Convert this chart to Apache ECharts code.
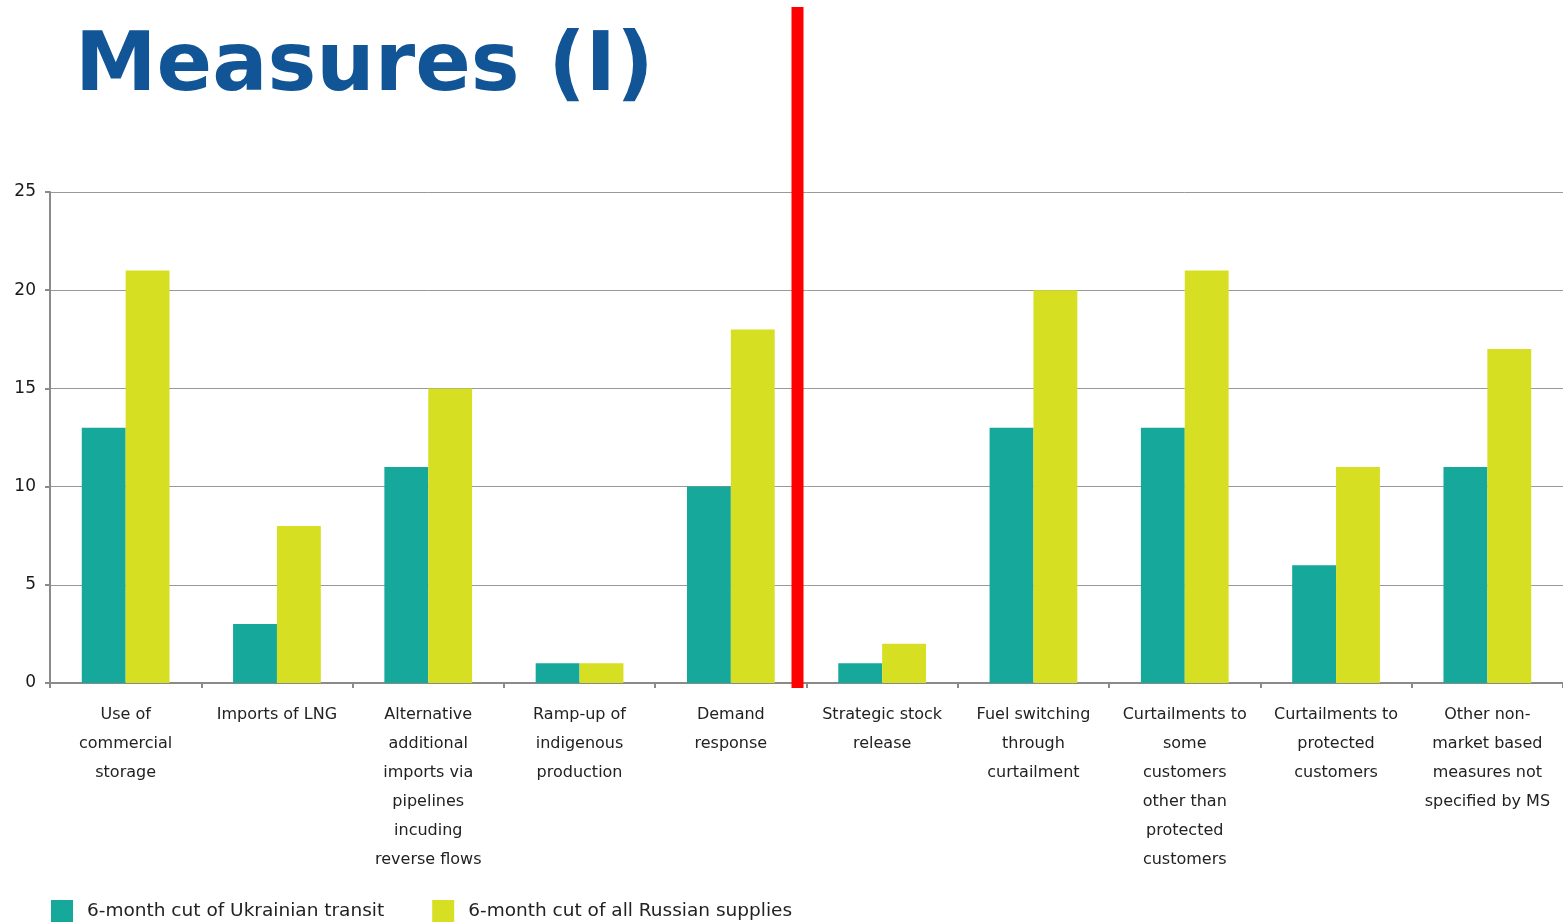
<!DOCTYPE html>
<html><head><meta charset="utf-8">
<script src="https://cdn.jsdelivr.net/npm/echarts@6/dist/echarts.min.js"></script>
<style>html,body{margin:0;padding:0;background:#fff}#c{width:1563px;height:924px}</style>
</head><body><div id="c"></div>
<script>
const categories = [
  "Use of\ncommercial\nstorage",
  "Imports of LNG",
  "Alternative\nadditional\nimports via\npipelines\nincuding\nreverse flows",
  "Ramp-up of\nindigenous\nproduction",
  "Demand\nresponse",
  "Strategic stock\nrelease",
  "Fuel switching\nthrough\ncurtailment",
  "Curtailments to\nsome\ncustomers\nother than\nprotected\ncustomers",
  "Curtailments to\nprotected\ncustomers",
  "Other non-\nmarket based\nmeasures not\nspecified by MS"
];
const seriesNames = ["6-month cut of Ukrainian transit", "6-month cut of all Russian supplies"];
const ukrainianTransit = [13, 3, 11, 1, 10, 1, 13, 13, 6, 11];
const allRussian = [21, 8, 15, 1, 18, 2, 20, 21, 11, 17];
const yTicks = { min: 0, max: 25, interval: 5 };

const chart = echarts.init(document.getElementById('c'));
const labelFont = 'DejaVu Sans';
chart.setOption({
  animation: false,
  title: {
    text: 'Measures (I)', left: 75, top: 28, padding: 0,
    textStyle: { fontFamily: 'DejaVu Sans', fontWeight: 'bold', fontSize: 82, color: '#115597' }
  },
  legend: {
    left: 51, top: 900, padding: 0, itemWidth: 22, itemHeight: 22, itemGap: 48,
    icon: 'rect',
    textStyle: { fontFamily: labelFont, fontSize: 18.5, color: '#222', padding: [0, 0, 0, 9] },
    data: seriesNames
  },
  grid: { left: 50, right: 0, top: 192, bottom: 241, containLabel: false },
  xAxis: {
    type: 'category', data: categories,
    axisLine: { lineStyle: { color: '#8a8a8a', width: 2 } },
    axisTick: { show: true, length: 5, lineStyle: { color: '#8a8a8a', width: 2 } },
    axisLabel: { interval: 0, margin: 17, fontFamily: labelFont, fontSize: 16, lineHeight: 29, color: '#222', align: 'center' }
  },
  yAxis: {
    type: 'value', min: yTicks.min, max: yTicks.max, interval: yTicks.interval,
    axisLine: { show: true, lineStyle: { color: '#8a8a8a', width: 2 } },
    axisTick: { show: true, length: 5, lineStyle: { color: '#8a8a8a', width: 2 } },
    axisLabel: { margin: 14, fontFamily: labelFont, fontSize: 17, color: '#1a1a1a' },
    splitLine: { lineStyle: { color: '#999', width: 1 } }
  },
  series: [
    { name: seriesNames[0], type: 'bar', data: ukrainianTransit, barGap: '0%', barCategoryGap: '42%', itemStyle: { color: '#17a89c' } },
    { name: seriesNames[1], type: 'bar', data: allRussian, barGap: '0%', barCategoryGap: '42%', itemStyle: { color: '#d7df23' } }
  ]
});
const c4 = chart.convertToPixel({ xAxisIndex: 0 }, 4);
const c5 = chart.convertToPixel({ xAxisIndex: 0 }, 5);
const boundary = (c4 + c5) / 2;
chart.setOption({
  graphic: [{ type: 'rect', z: 100, shape: { x: boundary - 15, y: 7, width: 12, height: 681 }, style: { fill: '#ff0000' } }]
});
</script></body></html>
